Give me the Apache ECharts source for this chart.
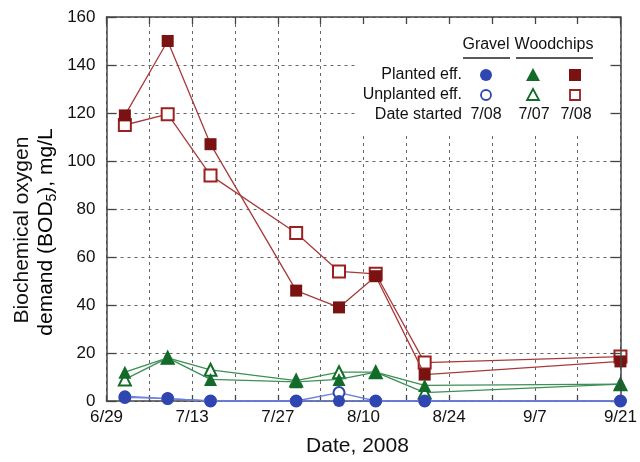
<!DOCTYPE html>
<html><head><meta charset="utf-8">
<script src="https://cdn.jsdelivr.net/npm/echarts@6/dist/echarts.min.js"></script>
<style>html,body{margin:0;padding:0;background:#fff}#c{width:640px;height:462px}</style>
</head><body><div id="c"></div>
<script>
const dates = ['7/2','7/9','7/16','7/30','8/6','8/12','8/20','9/21'];
const woodPlanted = [119,150,107,46,39,52,11,16.5];
const woodUnplanted = [115,119.5,94,70,54,53,16,18.5];
const greenPlanted = [12,18,9,8,9,12,6.5,7];
const greenUnplanted = [9,18,13,8.5,12,12,3.5,7];
const gravelPlanted = [2,1,0,0,0,0,0,0];
const gravelUnplanted = [1.5,1,0,0,3.5,0,0,0];
const xTickLabels = ['6/29','7/13','7/27','8/10','8/24','9/7','9/21'];
const yTicks = {min:0, max:160, interval:20};

function dayOf(s){const p=s.split('/').map(Number);return Math.round((Date.UTC(2008,p[0]-1,p[1])-Date.UTC(2008,5,29))/864e5);}
function pts(vals){return vals.map((v,i)=>[dayOf(dates[i]),v]);}

const FONT = '"Liberation Sans", Arial, sans-serif';
const RED='#7a1212', REDL='#a83a3a', GRN='#136b2a', GRNL='#3c8f55', BLU='#2f46b0', BLUL='#6b7fe0';
const gridLine = {show:true,lineStyle:{color:'#666',type:[3,4],width:1}};

const chart = echarts.init(document.getElementById('c'));
function ser(name,vals,symbol,size,col,lcol,z){
  return {name,type:'line',data:pts(vals),symbol,symbolSize:size,z,
    lineStyle:{color:lcol,width:1.3},
    itemStyle:{color:col,borderColor:col,borderWidth:symbol.startsWith('empty')?1.8:0},
    emphasis:{disabled:true},animation:false};
}
chart.setOption({
  animation:false,
  grid:{left:106.5,right:19,top:17,bottom:61},
  xAxis:[{type:'value',min:0,max:84,interval:7,position:'bottom',
    axisLine:{show:true,onZero:false,lineStyle:{color:'#444',width:1.5}},
    axisTick:{show:true,inside:true,length:6,lineStyle:{color:'#444',width:1.3}},
    axisLabel:{fontFamily:FONT,fontSize:17,color:'#111',margin:8,showMinLabel:true,showMaxLabel:true,
      formatter:v=>v%14===0?xTickLabels[v/14]:''},
    splitLine:gridLine,
    name:'Date, 2008',nameLocation:'middle',nameGap:35,
    nameTextStyle:{fontFamily:FONT,fontSize:21,color:'#111',padding:[0,12,0,0]}},
   {type:'value',min:0,max:84,interval:7,position:'top',z:6,
    axisLine:{show:true,onZero:false,lineStyle:{color:'#444',width:1.5}},
    axisTick:{show:true,inside:true,length:7,lineStyle:{color:'#444',width:1.3}},
    axisLabel:{show:false},splitLine:{show:false}}],
  yAxis:[{type:'value',min:yTicks.min,max:yTicks.max,interval:yTicks.interval,position:'left',
    axisLine:{show:true,onZero:false,lineStyle:{color:'#444',width:1.5}},
    axisTick:{show:true,inside:true,length:10,lineStyle:{color:'#444',width:1.3}},
    axisLabel:{fontFamily:FONT,fontSize:17,color:'#111',margin:11},
    splitLine:gridLine},
   {type:'value',min:yTicks.min,max:yTicks.max,interval:yTicks.interval,position:'right',z:6,
    axisLine:{show:true,onZero:false,lineStyle:{color:'#444',width:1.5}},
    axisTick:{show:true,inside:true,length:10,lineStyle:{color:'#444',width:1.3}},
    axisLabel:{show:false},splitLine:{show:false}}],
  series:[
    ser('Woodchips unplanted',woodUnplanted,'emptyRect',12,'#9b2020',REDL,2),
    ser('Woodchips planted',woodPlanted,'rect',12,RED,REDL,3),
    ser('Woodchips unplanted tri',greenUnplanted,'emptyTriangle',12,GRN,GRNL,4),
    ser('Woodchips planted tri',greenPlanted,'triangle',13,GRN,GRNL,5),
    ser('Gravel unplanted',gravelUnplanted,'emptyCircle',11,BLU,BLUL,6),
    ser('Gravel planted',gravelPlanted,'circle',12,BLU,BLUL,7)
  ],
  graphic:[
    {type:'rect',z:4,shape:{x:356,y:18,width:264,height:115},style:{fill:'#fff'}},
    {type:'text',z:10,x:22,y:230,rotation:Math.PI/2,style:{text:'Biochemical oxygen',font:'21px '+FONT,fill:'#111',align:'center',verticalAlign:'middle'}},
    {type:'text',z:10,x:46,y:232,rotation:Math.PI/2,style:{
      text:'{a|demand (BOD}{s|5}{a|), mg/L}',align:'center',verticalAlign:'middle',
      rich:{a:{fontFamily:FONT,fontSize:21,color:'#111',lineHeight:26,verticalAlign:'middle'},
            s:{fontFamily:FONT,fontSize:14,color:'#111',lineHeight:14,verticalAlign:'bottom'}}}},
    {type:'text',z:10,x:486,y:45,style:{text:'Gravel',font:'16px '+FONT,fill:'#111',align:'center',verticalAlign:'middle'}},
    {type:'text',z:10,x:554,y:45,style:{text:'Woodchips',font:'16px '+FONT,fill:'#111',align:'center',verticalAlign:'middle'}},
    {type:'line',z:10,shape:{x1:463,y1:58,x2:510,y2:58},style:{stroke:'#222',lineWidth:1.3}},
    {type:'line',z:10,shape:{x1:516,y1:58,x2:593,y2:58},style:{stroke:'#222',lineWidth:1.3}},
    {type:'text',z:10,x:462,y:75,style:{text:'Planted eff.',font:'16px '+FONT,fill:'#111',align:'right',verticalAlign:'middle'}},
    {type:'text',z:10,x:462,y:95,style:{text:'Unplanted eff.',font:'16px '+FONT,fill:'#111',align:'right',verticalAlign:'middle'}},
    {type:'text',z:10,x:462,y:115,style:{text:'Date started',font:'16px '+FONT,fill:'#111',align:'right',verticalAlign:'middle'}},
    {type:'text',z:10,x:486,y:115,style:{text:'7/08',font:'16px '+FONT,fill:'#111',align:'center',verticalAlign:'middle'}},
    {type:'text',z:10,x:534,y:115,style:{text:'7/07',font:'16px '+FONT,fill:'#111',align:'center',verticalAlign:'middle'}},
    {type:'text',z:10,x:576,y:115,style:{text:'7/08',font:'16px '+FONT,fill:'#111',align:'center',verticalAlign:'middle'}},
    {type:'circle',z:10,shape:{cx:486,cy:75,r:6},style:{fill:BLU}},
    {type:'circle',z:10,shape:{cx:486,cy:95,r:5},style:{fill:'#fff',stroke:BLU,lineWidth:1.8}},
    {type:'polygon',z:10,shape:{points:[[533,68],[540,81],[526,81]]},style:{fill:GRN}},
    {type:'polygon',z:10,shape:{points:[[533,89],[539,100],[527,100]]},style:{fill:'#fff',stroke:GRN,lineWidth:1.8}},
    {type:'rect',z:10,shape:{x:569,y:69,width:12,height:12},style:{fill:RED}},
    {type:'rect',z:10,shape:{x:570,y:90,width:10,height:10},style:{fill:'#fff',stroke:'#9b2020',lineWidth:1.8}}
  ]
});
</script></body></html>
